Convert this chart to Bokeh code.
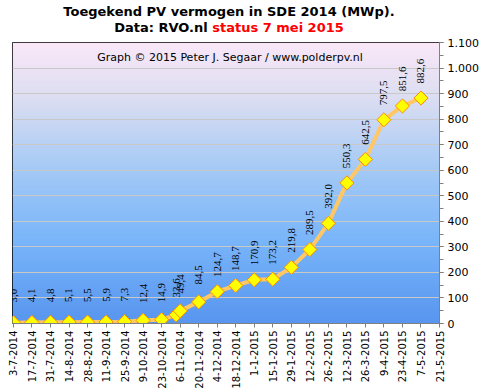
import math
import numpy as np
import pandas as pd
from bokeh.plotting import figure
from bokeh.models import (ColumnDataSource, LabelSet, Label, FixedTicker,
                          SingleIntervalTicker, CustomJSTickFormatter, Range1d, Div)
from bokeh.layouts import column
from bokeh.embed import file_html
from bokeh.resources import INLINE

# ---- data ----
dates = ["2014-07-03", "2014-07-17", "2014-07-31", "2014-08-14", "2014-08-28",
         "2014-09-11", "2014-09-25", "2014-10-09", "2014-10-23", "2014-11-03",
         "2014-11-06", "2014-11-20", "2014-12-04", "2014-12-18", "2015-01-01",
         "2015-01-15", "2015-01-29", "2015-02-12", "2015-02-26", "2015-03-12",
         "2015-03-26", "2015-04-09", "2015-04-23", "2015-05-07"]
values = [3.0, 4.1, 4.8, 5.1, 5.5, 5.9, 7.3, 12.4, 14.9, 33.6, 49.4, 84.5,
          124.7, 148.7, 170.9, 173.2, 219.8, 289.5, 392.0, 550.3, 642.5,
          797.5, 851.6, 882.6]
tick_labels = ["3-7-2014", "17-7-2014", "31-7-2014", "14-8-2014", "28-8-2014",
               "11-9-2014", "25-9-2014", "9-10-2014", "23-10-2014", "6-11-2014",
               "20-11-2014", "4-12-2014", "18-12-2014", "1-1-2015", "15-1-2015",
               "29-1-2015", "12-2-2015", "26-2-2015", "12-3-2015", "26-3-2015",
               "9-4-2015", "23-4-2015", "7-5-2015", "21-5-2015"]
y_max = 1100
title_line1 = "Toegekend PV vermogen in SDE 2014 (MWp)."
title_line2a = "Data: RVO.nl"
title_line2b = "status 7 mei 2015"
credit = "Graph \u00a9 2015 Peter J. Segaar / www.polderpv.nl"

# ---- derived ----
DAY = 86400000.0
x = pd.to_datetime(dates)
tick_ms = [(pd.to_datetime(t, format="%d-%m-%Y") - pd.Timestamp("1970-01-01")).total_seconds() * 1000.0
           for t in tick_labels]
x_start = tick_ms[0] - 0.7 * DAY
x_end = tick_ms[-1]
labels = [f"{v:.1f}".replace(".", ",") for v in values]
src = ColumnDataSource(dict(x=x, y=values, label=labels))

p = figure(width=483, height=355, x_axis_type="datetime", y_axis_location="right",
           x_range=Range1d(x_start, x_end), y_range=Range1d(0, y_max),
           output_backend="svg", toolbar_location=None,
           min_border_left=12, min_border_top=6, min_border_right=44, min_border_bottom=66)
p.background_fill_color = "white"
p.border_fill_color = "white"
p.outline_line_color = "black"
p.outline_line_width = 1

# gradient background (styling)
stops_t = np.array([0.0, 0.2, 0.45, 0.7, 1.0])  # from top to bottom
stops_c = np.array([[250, 232, 248], [220, 222, 242], [165, 202, 246],
                    [122, 182, 250], [88, 150, 240]], dtype=float)
N = 200
tt = np.linspace(1, 0, N)  # row 0 = bottom
img = np.empty((N, 1), dtype=np.uint32)
view = img.view(dtype=np.uint8).reshape((N, 1, 4))
for ch in range(3):
    view[:, 0, ch] = np.interp(tt, stops_t, stops_c[:, ch]).astype(np.uint8)
view[:, 0, 3] = 255
p.image_rgba(image=[img], x=x_start, y=0, dw=x_end - x_start, dh=y_max, level="image")

p.xgrid.visible = False
p.ygrid.grid_line_color = "#C8C8C8"
p.ygrid.grid_line_width = 1
p.ygrid.ticker = SingleIntervalTicker(interval=100)

# line + markers
p.line("x", "y", source=src, line_color="#FFC864", line_width=4)
p.scatter("x", "y", source=src, marker="square", angle=math.pi / 4, size=10,
          fill_color="#FFFF00", line_color="#FF8C00", line_width=1)

ls = LabelSet(x="x", y="y", text="label", source=src, angle=math.pi / 2,
              text_align="center", text_baseline="middle", y_offset=27,
              text_font="DejaVu Sans", text_font_size="11px", text_color="black")
p.add_layout(ls)

p.add_layout(Label(x=(x_start + x_end) / 2, y=1042, text=credit, x_offset=4,
                   text_align="center", text_baseline="middle",
                   text_font="DejaVu Sans", text_font_size="11px", text_color="black"))

# y axis (right)
ya = p.yaxis[0]
ya.ticker = SingleIntervalTicker(interval=100, num_minor_ticks=2)
ya.formatter = CustomJSTickFormatter(code=r"""
return Math.round(tick).toString().replace(/\B(?=(\d{3})+(?!\d))/g, ".");
""")
ya.axis_line_color = "#808080"
ya.major_tick_line_color = "#808080"
ya.minor_tick_line_color = "#808080"
ya.major_tick_in = 0
ya.major_tick_out = 4
ya.minor_tick_in = 0
ya.minor_tick_out = 4
ya.major_label_standoff = 4
ya.major_label_text_font = "DejaVu Sans"
ya.major_label_text_font_size = "11px"
ya.major_label_text_color = "black"

# x axis
xa = p.xaxis[0]
xa.ticker = FixedTicker(ticks=tick_ms, minor_ticks=[])
xa.formatter = CustomJSTickFormatter(code="""
const d = new Date(tick);
return d.getUTCDate() + "-" + (d.getUTCMonth() + 1) + "-" + d.getUTCFullYear();
""")
xa.major_label_orientation = math.pi / 2
xa.axis_line_color = "#808080"
xa.major_tick_line_color = "#808080"
xa.major_tick_in = 0
xa.major_tick_out = 4
xa.major_label_standoff = 3
xa.major_label_text_font = "DejaVu Sans"
xa.major_label_text_font_size = "10px"
xa.major_label_text_color = "black"

title_html = (
    '<div style="width:458px;text-align:center;font-family:\'DejaVu Sans\';'
    'font-weight:bold;font-size:13px;line-height:16px;padding-top:4px;color:#000;">'
    f'{title_line1}<br>{title_line2a} '
    f'<span style="color:#FF0000">{title_line2b}</span></div>'
)
div = Div(text=title_html, width=483, height=36, margin=(0, 0, 0, 0))

layout = column(div, p, spacing=0)
open("out.html", "w").write(file_html(layout, INLINE))
